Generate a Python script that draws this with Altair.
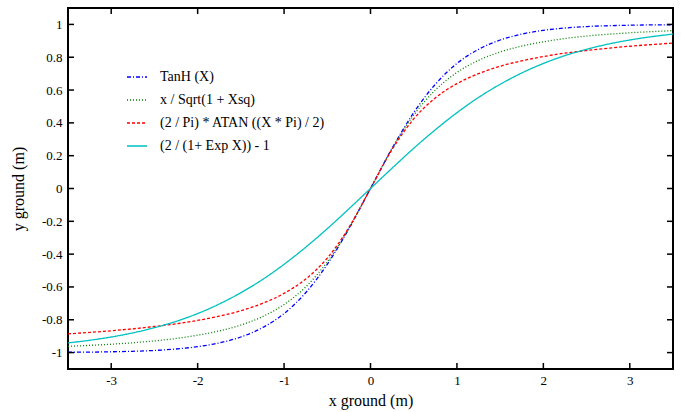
import altair as alt
import pandas as pd

x_values = [-3.5, -3.25, -3.0, -2.75, -2.5, -2.25, -2.0, -1.75, -1.5, -1.25, -1.0, -0.75, -0.5, -0.25,
            0.0, 0.25, 0.5, 0.75, 1.0, 1.25, 1.5, 1.75, 2.0, 2.25, 2.5, 2.75, 3.0, 3.25, 3.5]

tanh_half = [0.998, 0.997, 0.995, 0.992, 0.987, 0.978, 0.964, 0.941, 0.905, 0.848, 0.762, 0.635, 0.462, 0.245]
sqrt_half = [0.962, 0.956, 0.949, 0.940, 0.929, 0.914, 0.894, 0.868, 0.832, 0.781, 0.707, 0.600, 0.447, 0.243]
atan_half = [0.886, 0.877, 0.867, 0.855, 0.841, 0.825, 0.804, 0.778, 0.745, 0.700, 0.639, 0.552, 0.424, 0.238]
exp_half = [0.941, 0.925, 0.905, 0.880, 0.848, 0.810, 0.762, 0.704, 0.635, 0.555, 0.462, 0.358, 0.245, 0.124]

def full(half):
    return [-v for v in half] + [0.0] + list(reversed(half))

series_names = ["TanH (X)", "x / Sqrt(1 + Xsq)", "(2 / Pi) * ATAN ((X * Pi) / 2)", "(2 / (1+ Exp X)) - 1"]
series_values = [full(tanh_half), full(sqrt_half), full(atan_half), full(exp_half)]
series_colors = ["#0000ff", "#008000", "#ff0000", "#00c0c0"]
series_dashes = [[4, 2, 1, 2], [1, 2], [3, 2], [1, 0]]

x_ticks = [-3, -2, -1, 0, 1, 2, 3]
y_ticks = [-1, -0.8, -0.6, -0.4, -0.2, 0, 0.2, 0.4, 0.6, 0.8, 1]

rows = []
for name, vals in zip(series_names, series_values):
    for xv, yv in zip(x_values, vals):
        rows.append({"x": xv, "y": yv, "series": name})
df = pd.DataFrame(rows)

W, H = 605, 361
FONT = "Liberation Serif"

xscale = alt.Scale(domain=[-3.5, 3.5], nice=False, zero=False)
yscale = alt.Scale(domain=[-1.1, 1.1], nice=False, zero=False)

x_axis = alt.Axis(values=x_ticks, labelExpr="'' + datum.value", grid=False, domain=False,
                  ticks=False, labelPadding=5, titlePadding=5,
                  labelOverlap=False, labelFlush=False, labelBound=False)
y_axis = alt.Axis(values=y_ticks, labelExpr="'' + datum.value", grid=False, domain=False,
                  ticks=False, labelPadding=6, titlePadding=15,
                  labelOverlap=False, labelFlush=False, labelBound=False)

def xenc():
    return alt.X("x:Q", scale=xscale, title="x ground (m)", axis=x_axis)

def yenc():
    return alt.Y("y:Q", scale=yscale, title="y ground (m)", axis=y_axis)

lines = alt.Chart(df).mark_line(strokeWidth=1.3, interpolate="monotone").encode(
    x=xenc(),
    y=yenc(),
    color=alt.Color("series:N", scale=alt.Scale(domain=series_names, range=series_colors),
                    legend=alt.Legend(orient="none", legendX=58, legendY=58, title=None,
                                      symbolType="stroke", symbolSize=400, symbolStrokeWidth=1.5,
                                      labelFont=FONT, labelFontSize=14, labelColor="black",
                                      rowPadding=5, labelOffset=12, labelLimit=400)),
    strokeDash=alt.StrokeDash("series:N", scale=alt.Scale(domain=series_names, range=series_dashes),
                              legend=None),
)

xt = pd.DataFrame({"x": x_ticks})
yt = pd.DataFrame({"y": y_ticks})

tick_bottom = alt.Chart(xt).mark_rule(color="black", strokeWidth=1.5).encode(
    x=xenc(), y=alt.value(H), y2=alt.value(H - 6))
tick_top = alt.Chart(xt).mark_rule(color="black", strokeWidth=1.5).encode(
    x=xenc(), y=alt.value(0), y2=alt.value(6))
tick_left = alt.Chart(yt).mark_rule(color="black", strokeWidth=1.5).encode(
    y=yenc(), x=alt.value(0), x2=alt.value(6))
tick_right = alt.Chart(yt).mark_rule(color="black", strokeWidth=1.5).encode(
    y=yenc(), x=alt.value(W), x2=alt.value(W - 6))

chart = alt.layer(lines, tick_bottom, tick_top, tick_left, tick_right).properties(
    width=W, height=H,
    autosize=alt.AutoSizeParams(type="none"),
    padding={"left": 68, "top": 8, "right": 8, "bottom": 43},
    background="white",
).configure_view(stroke="black", strokeWidth=2).configure_axis(
    labelFont=FONT, labelFontSize=13, labelColor="black",
    titleFont=FONT, titleFontSize=16, titleFontWeight="normal", titleColor="black",
)

chart.save("out.html", embed_options={"renderer": "svg", "actions": False})
